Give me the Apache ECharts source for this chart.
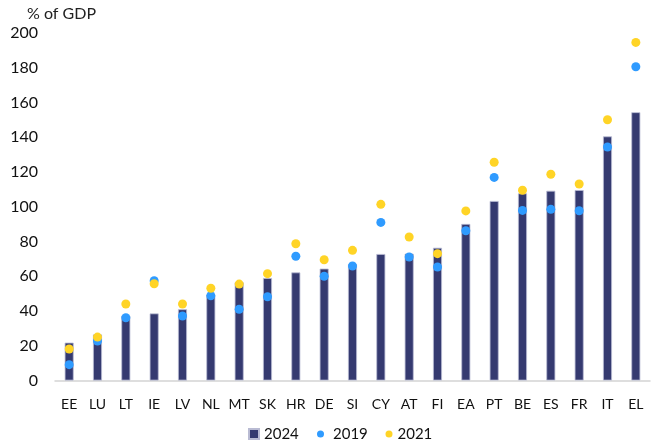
<!DOCTYPE html>
<html>
<head>
<meta charset="utf-8">
<script src="https://cdn.jsdelivr.net/npm/echarts@6/dist/echarts.min.js"></script>
<style>
  html, body { margin: 0; padding: 0; background: #fff; }
  #chart { width: 657px; height: 446px; }
</style>
</head>
<body>
<div id="chart"></div>
<script>
// Government debt, % of GDP
const countries = ['EE','LU','LT','IE','LV','NL','MT','SK','HR','DE','SI','CY','AT','FI','EA','PT','BE','ES','FR','IT','EL'];
const debt2024 = [21.8, 26.5, 37.3, 38.6, 41.0, 49.4, 56.5, 59.0, 62.2, 64.4, 66.9, 72.8, 73.0, 76.4, 90.1, 103.3, 107.7, 109.2, 109.6, 140.5, 154.4];
const debt2019 = [9.1, 22.7, 36.1, 57.4, 37.1, 48.8, 41.0, 48.2, 71.5, 60.0, 65.9, 91.0, 71.1, 65.3, 86.2, 116.9, 97.9, 98.5, 97.7, 134.4, 180.6];
const debt2021 = [18.1, 25.0, 44.0, 55.7, 44.0, 53.1, 55.5, 61.5, 78.7, 69.5, 74.9, 101.4, 82.6, 73.0, 97.6, 125.6, 109.5, 118.7, 113.1, 150.1, 194.6];
const yTicks = [0, 20, 40, 60, 80, 100, 120, 140, 160, 180, 200];

const FONT = 'Lato, "Open Sans", sans-serif';
const NAVY = '#353a70';
const BLUE = '#2f9bff';
const YELLOW = '#ffd426';

const chart = echarts.init(document.getElementById('chart'), null, { renderer: 'canvas' });

const legendBase = {
  orient: 'horizontal',
  top: 426,
  padding: 0,
  itemGap: 0,
  textStyle: { fontFamily: FONT, fontSize: 15, color: '#111', lineHeight: 16 },
  selectedMode: false
};

chart.setOption({
  animation: false,
  backgroundColor: '#fff',
  graphic: [{
    type: 'text',
    left: 27,
    top: 6,
    style: { text: '% of GDP', font: '16px ' + FONT, fill: '#222' }
  }],
  legend: [
    Object.assign({}, legendBase, { left: 248, data: [{ name: '2024', icon: 'rect' }], itemWidth: 10, itemHeight: 10 }),
    Object.assign({}, legendBase, {
      left: 317, data: [{ name: '2019', icon: 'circle' }], itemWidth: 7, itemHeight: 7,
      textStyle: Object.assign({}, legendBase.textStyle, { padding: [0, 0, 0, 4] })
    }),
    Object.assign({}, legendBase, { left: 385.5, data: [{ name: '2021', icon: 'circle' }], itemWidth: 7, itemHeight: 7 })
  ],
  grid: { left: 55, right: 7, top: 33, bottom: 65.5, containLabel: false },
  xAxis: {
    type: 'category',
    data: countries,
    axisLine: { lineStyle: { color: '#d4d4d4', width: 1.5 } },
    axisTick: { show: false },
    axisLabel: { fontFamily: FONT, fontSize: 14, color: '#111', margin: 17, interval: 0 },
    splitLine: { show: false }
  },
  yAxis: {
    type: 'value',
    min: yTicks[0],
    max: yTicks[yTicks.length - 1],
    interval: 20,
    axisLine: { show: false },
    axisTick: { show: false },
    splitLine: { show: false },
    axisLabel: { fontFamily: FONT, fontSize: 16, color: '#111', margin: 17 }
  },
  series: [
    {
      name: '2024',
      type: 'bar',
      data: debt2024,
      barWidth: 9,
      itemStyle: { color: NAVY, borderColor: '#b9bbd3', borderWidth: 0.8 },
      z: 2
    },
    {
      name: '2019',
      type: 'scatter',
      data: debt2019,
      symbol: 'circle',
      symbolSize: 9,
      itemStyle: { color: BLUE, opacity: 1 },
      z: 3
    },
    {
      name: '2021',
      type: 'scatter',
      data: debt2021,
      symbol: 'circle',
      symbolSize: 9,
      itemStyle: { color: YELLOW, opacity: 1 },
      z: 4
    }
  ]
});
</script>
</body>
</html>
